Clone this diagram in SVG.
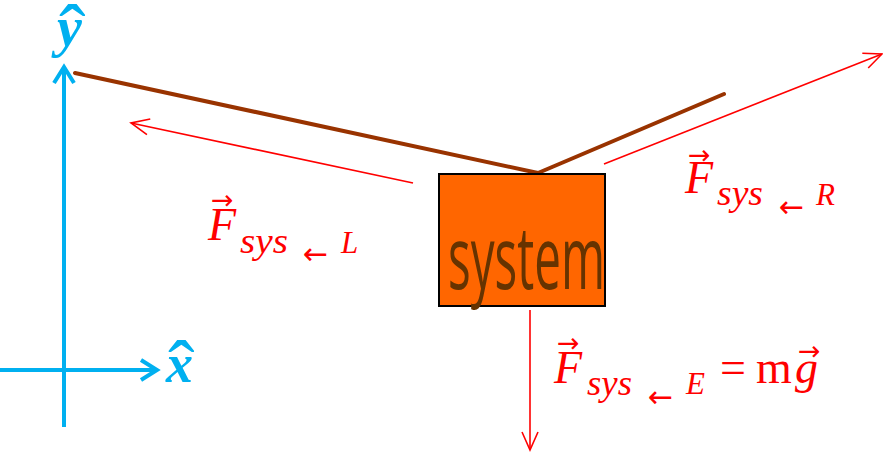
<svg xmlns="http://www.w3.org/2000/svg" width="883" height="453" viewBox="0 0 883 453">
<style>
.axis{stroke:#00B0F0;stroke-width:4;fill:none}
.rope{stroke:#993300;stroke-width:4;fill:none;stroke-linecap:round;stroke-linejoin:round}
.force{stroke:#FF0000;stroke-width:1.6;fill:none}
.lbl{font-family:"Liberation Serif","DejaVu Serif",serif;fill:#FF0000;font-style:italic}
.up{font-style:normal}
.arr{font-family:"DejaVu Sans",sans-serif;font-style:normal}
.ax{font-family:"Liberation Serif","DejaVu Serif",serif;fill:#00B0F0;font-style:italic;font-weight:bold}
.hat{font-style:normal;font-weight:normal}
</style>
<defs>
<marker id="axhead" markerUnits="userSpaceOnUse" viewBox="-20 -12 24 24" refX="0" refY="0" markerWidth="24" markerHeight="24" orient="auto" overflow="visible">
<path d="M-16,-10 L0,0 L-16,10" fill="none" stroke="#00B0F0" stroke-width="4"/>
</marker>
<marker id="fhead" markerUnits="userSpaceOnUse" viewBox="-20 -12 24 24" refX="0" refY="0" markerWidth="24" markerHeight="24" orient="auto" overflow="visible">
<path d="M-18,-8 L0,0 L-18,8" fill="none" stroke="#FF0000" stroke-width="1.6"/>
</marker>
</defs>
<rect width="883" height="453" fill="#FFFFFF"/>
<g id="axes">
<line class="axis" x1="64" y1="427" x2="64" y2="67" marker-end="url(#axhead)"/>
<line class="axis" x1="0" y1="370" x2="157" y2="370" marker-end="url(#axhead)"/>
<text class="ax" x="57" y="46" font-size="56">y<tspan class="hat" x="59" y="60" font-size="80">ˆ</tspan></text>
<text class="ax" x="166" y="382" font-size="54">x<tspan class="hat" x="168" y="396" font-size="80">ˆ</tspan></text>
</g>
<g id="rope">
<polyline class="rope" points="75,73 538,173 724,94"/>
</g>
<g id="system">
<rect x="439" y="174" width="166" height="132" fill="#FF6600" stroke="#000000" stroke-width="2"/>
<text x="448" y="289" font-family="'Open Sans','DejaVu Sans',sans-serif" font-size="88" fill="#663300" textLength="157" lengthAdjust="spacingAndGlyphs">system</text>
</g>
<g id="connectors">
<line class="force" x1="413" y1="183" x2="131" y2="123" marker-end="url(#fhead)"/>
<line class="force" x1="604" y1="164" x2="882" y2="54" marker-end="url(#fhead)"/>
<line class="force" x1="530" y1="310" x2="530" y2="450" marker-end="url(#fhead)"/>
</g>
<g id="label-L">
<text class="lbl" x="208" y="240" font-size="46">F<tspan class="arr" x="211" y="209" font-size="27">→</tspan><tspan x="240" y="253" font-size="35" textLength="48" lengthAdjust="spacingAndGlyphs">sys</tspan><tspan class="arr" x="303" y="264" font-size="30">←</tspan><tspan x="341" y="253" font-size="31">L</tspan></text>
</g>
<g id="label-R">
<text class="lbl" x="685" y="193" font-size="46">F<tspan class="arr" x="688" y="164" font-size="27">→</tspan><tspan x="717" y="205" font-size="35" textLength="46" lengthAdjust="spacingAndGlyphs">sys</tspan><tspan class="arr" x="779" y="217" font-size="30">←</tspan><tspan x="816" y="205" font-size="31">R</tspan></text>
</g>
<g id="label-E">
<text class="lbl" x="554" y="383" font-size="46">F<tspan class="arr" x="557" y="352" font-size="27">→</tspan><tspan x="587" y="395" font-size="35" textLength="45" lengthAdjust="spacingAndGlyphs">sys</tspan><tspan class="arr" x="648" y="407" font-size="30">←</tspan><tspan x="686" y="394" font-size="31">E</tspan><tspan class="up" x="720" y="383" font-size="46">=</tspan><tspan class="up" x="756" y="383">m</tspan><tspan x="795" y="383">g</tspan><tspan class="arr" x="798" y="360" font-size="27">→</tspan></text>
</g>
</svg>
